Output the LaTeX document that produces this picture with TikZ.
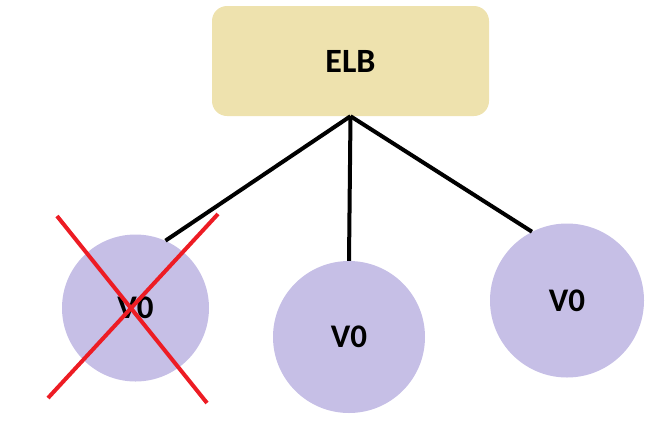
\documentclass[tikz,border=0pt]{standalone}
\usepackage{fontspec}
\setmainfont{Carlito}
\definecolor{lbfill}{HTML}{EEE2AE}
\definecolor{vmfill}{HTML}{C6BFE6}
\definecolor{xred}{HTML}{ED1C24}
\begin{document}
\begin{tikzpicture}[x=1pt, y=-1pt,
		lb/.style={rectangle, fill=lbfill, rounded corners=15pt, minimum width=277pt, minimum height=110pt, font=\fontsize{34}{36}\selectfont\bfseries},
		vm/.style={circle, fill=vmfill, minimum size=150pt, inner sep=0pt, font=\fontsize{33}{36}\selectfont\bfseries},
		link/.style={line width=4pt, black},
		cross/.style={line width=4pt, xred}]
			\useasboundingbox (0, 0) rectangle (664, 424);

			\node (elb)[lb] at (350.5, 61) {ELB\hspace{14pt}};

			\node (v1)[vm, minimum size=147pt] at (135.5, 308) {V0};
			\node (v2)[vm, minimum size=152pt] at (349, 337) {V0};
			\node (v3)[vm, minimum size=154pt] at (567, 300.5) {V0};

			\draw[link] (elb.south) -- (v1.66);
			\draw[link] (elb.south) -- (v2.north);
			\draw[link] (elb.south) -- (v3.117);

			% v1 is gone
			\draw[cross] (57, 216) -- (207, 403);
			\draw[cross] (218, 214) -- (48, 398);
		\end{tikzpicture}
\end{document}
